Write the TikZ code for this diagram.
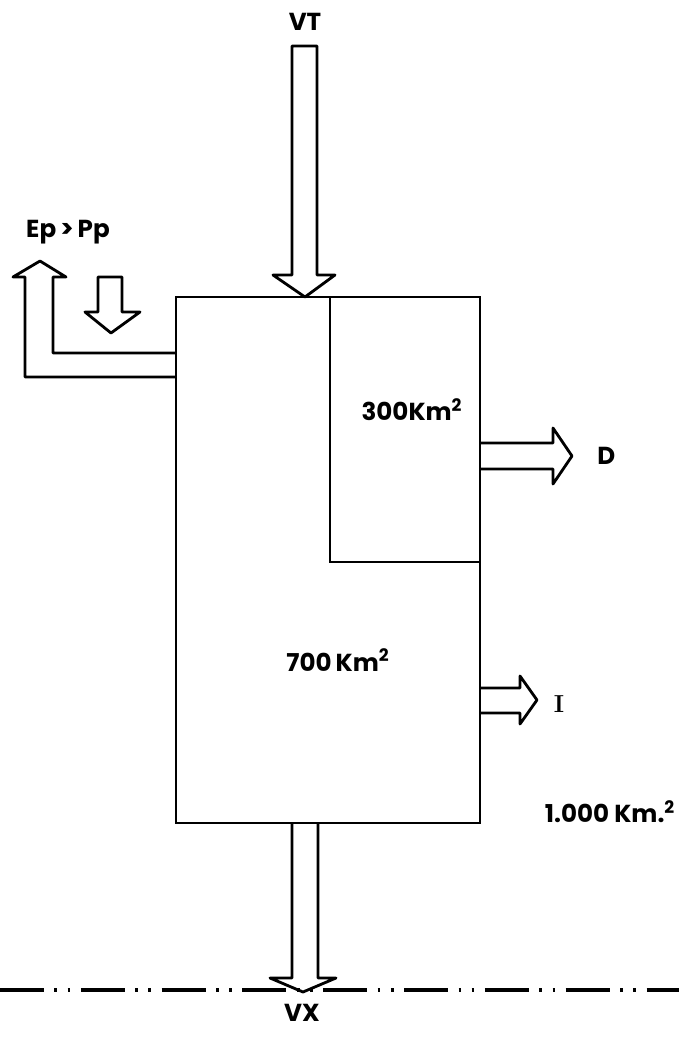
\documentclass[tikz,border=0pt]{standalone}
\usepackage{fontspec}
\setsansfont{Poppins}
\usetikzlibrary{positioning, calc}

\begin{document}
\begin{tikzpicture}[
		x=0.02cm, y=-0.02cm,
		wall/.style={draw=black, line width=1.6pt, line join=miter},
		blockarrow/.style={draw=black, fill=white, line width=1.6pt, line join=round},
		label/.style={font=\sffamily\bfseries\fontsize{14}{16}\selectfont, inner sep=1pt},
		basin/.style={draw=black, line width=2pt, dash pattern=on 25pt off 6pt on 1.5pt off 6pt on 1.5pt off 6pt}
		]
		
		% frame of the page
		\useasboundingbox (0,0) rectangle (679,1038);
		
		% --- corners of the basin (1.000 km2) ---
		\coordinate (nw) at (176,297);
		\coordinate (se) at (480,823);
		\coordinate (sub) at (330,562);
		
		% --- Inflow VT from the top ---
		\coordinate (vttip) at (305,297);
		\filldraw[blockarrow] (292,46) -- (317,46) -- (317,275) -- (335,275)
		-- (vttip) -- (273,275) -- (292,275) -- cycle;
		\node[label] (vt) at (305,22) {VT};
		
		% --- Evaporation out / rain in, left side ---
		\filldraw[blockarrow] (nw |- 0,353) -- (53,353) -- (53,277) -- (66,277)
		-- (40,261) -- (13,277) -- (25,277) -- (25,377) -- (nw |- 0,377);
		\filldraw[blockarrow] (98,277) -- (122,277) -- (122,312) -- (140,312)
		-- (111,333) -- (85,312) -- (98,312) -- cycle;
		\node[label] (ep) at (68,232) {Ep\,>\,Pp};
		
		% --- Outflows to the right ---
		\filldraw[blockarrow] (se |- 0,443) -- (553,443) -- (553,428) -- (572,456)
		-- (553,484) -- (553,469) -- (se |- 0,469);
		\node[label, right=24pt of {(553,456)}] (d) {D};
		
		\filldraw[blockarrow] (se |- 0,688) -- (520,688) -- (520,676) -- (537,700)
		-- (520,724) -- (520,713) -- (se |- 0,713);
		\node[label, font=\rmfamily\bfseries\fontsize{14}{16}\selectfont] (i) at (559,704) {I};
		
		% --- Outflow VX at the bottom ---
		\filldraw[blockarrow] (292,823) -- (292,978) -- (270,978) -- (303,992)
		-- (336,978) -- (318,978) -- (318,823);
		\draw[basin] (0,990) -- (679,990);
		\node[label] (vx) at (302,1013) {VX};
		
		% --- the basin and the upper sub-basin (300 km2) ---
		\draw[wall] (nw) rectangle (se);
		\draw[wall] (sub |- nw) -- (sub) -- (sub -| se);
		
		% area labels
		\node[label] (a300) at (412,410) {300Km\textsuperscript{2}};
		\node[label] (a700) at (338,660) {700\,Km\textsuperscript{2}};
		\node[label] (a1000) at (610,812) {1.000 Km.\textsuperscript{2}};
		
	\end{tikzpicture}
\end{document}
